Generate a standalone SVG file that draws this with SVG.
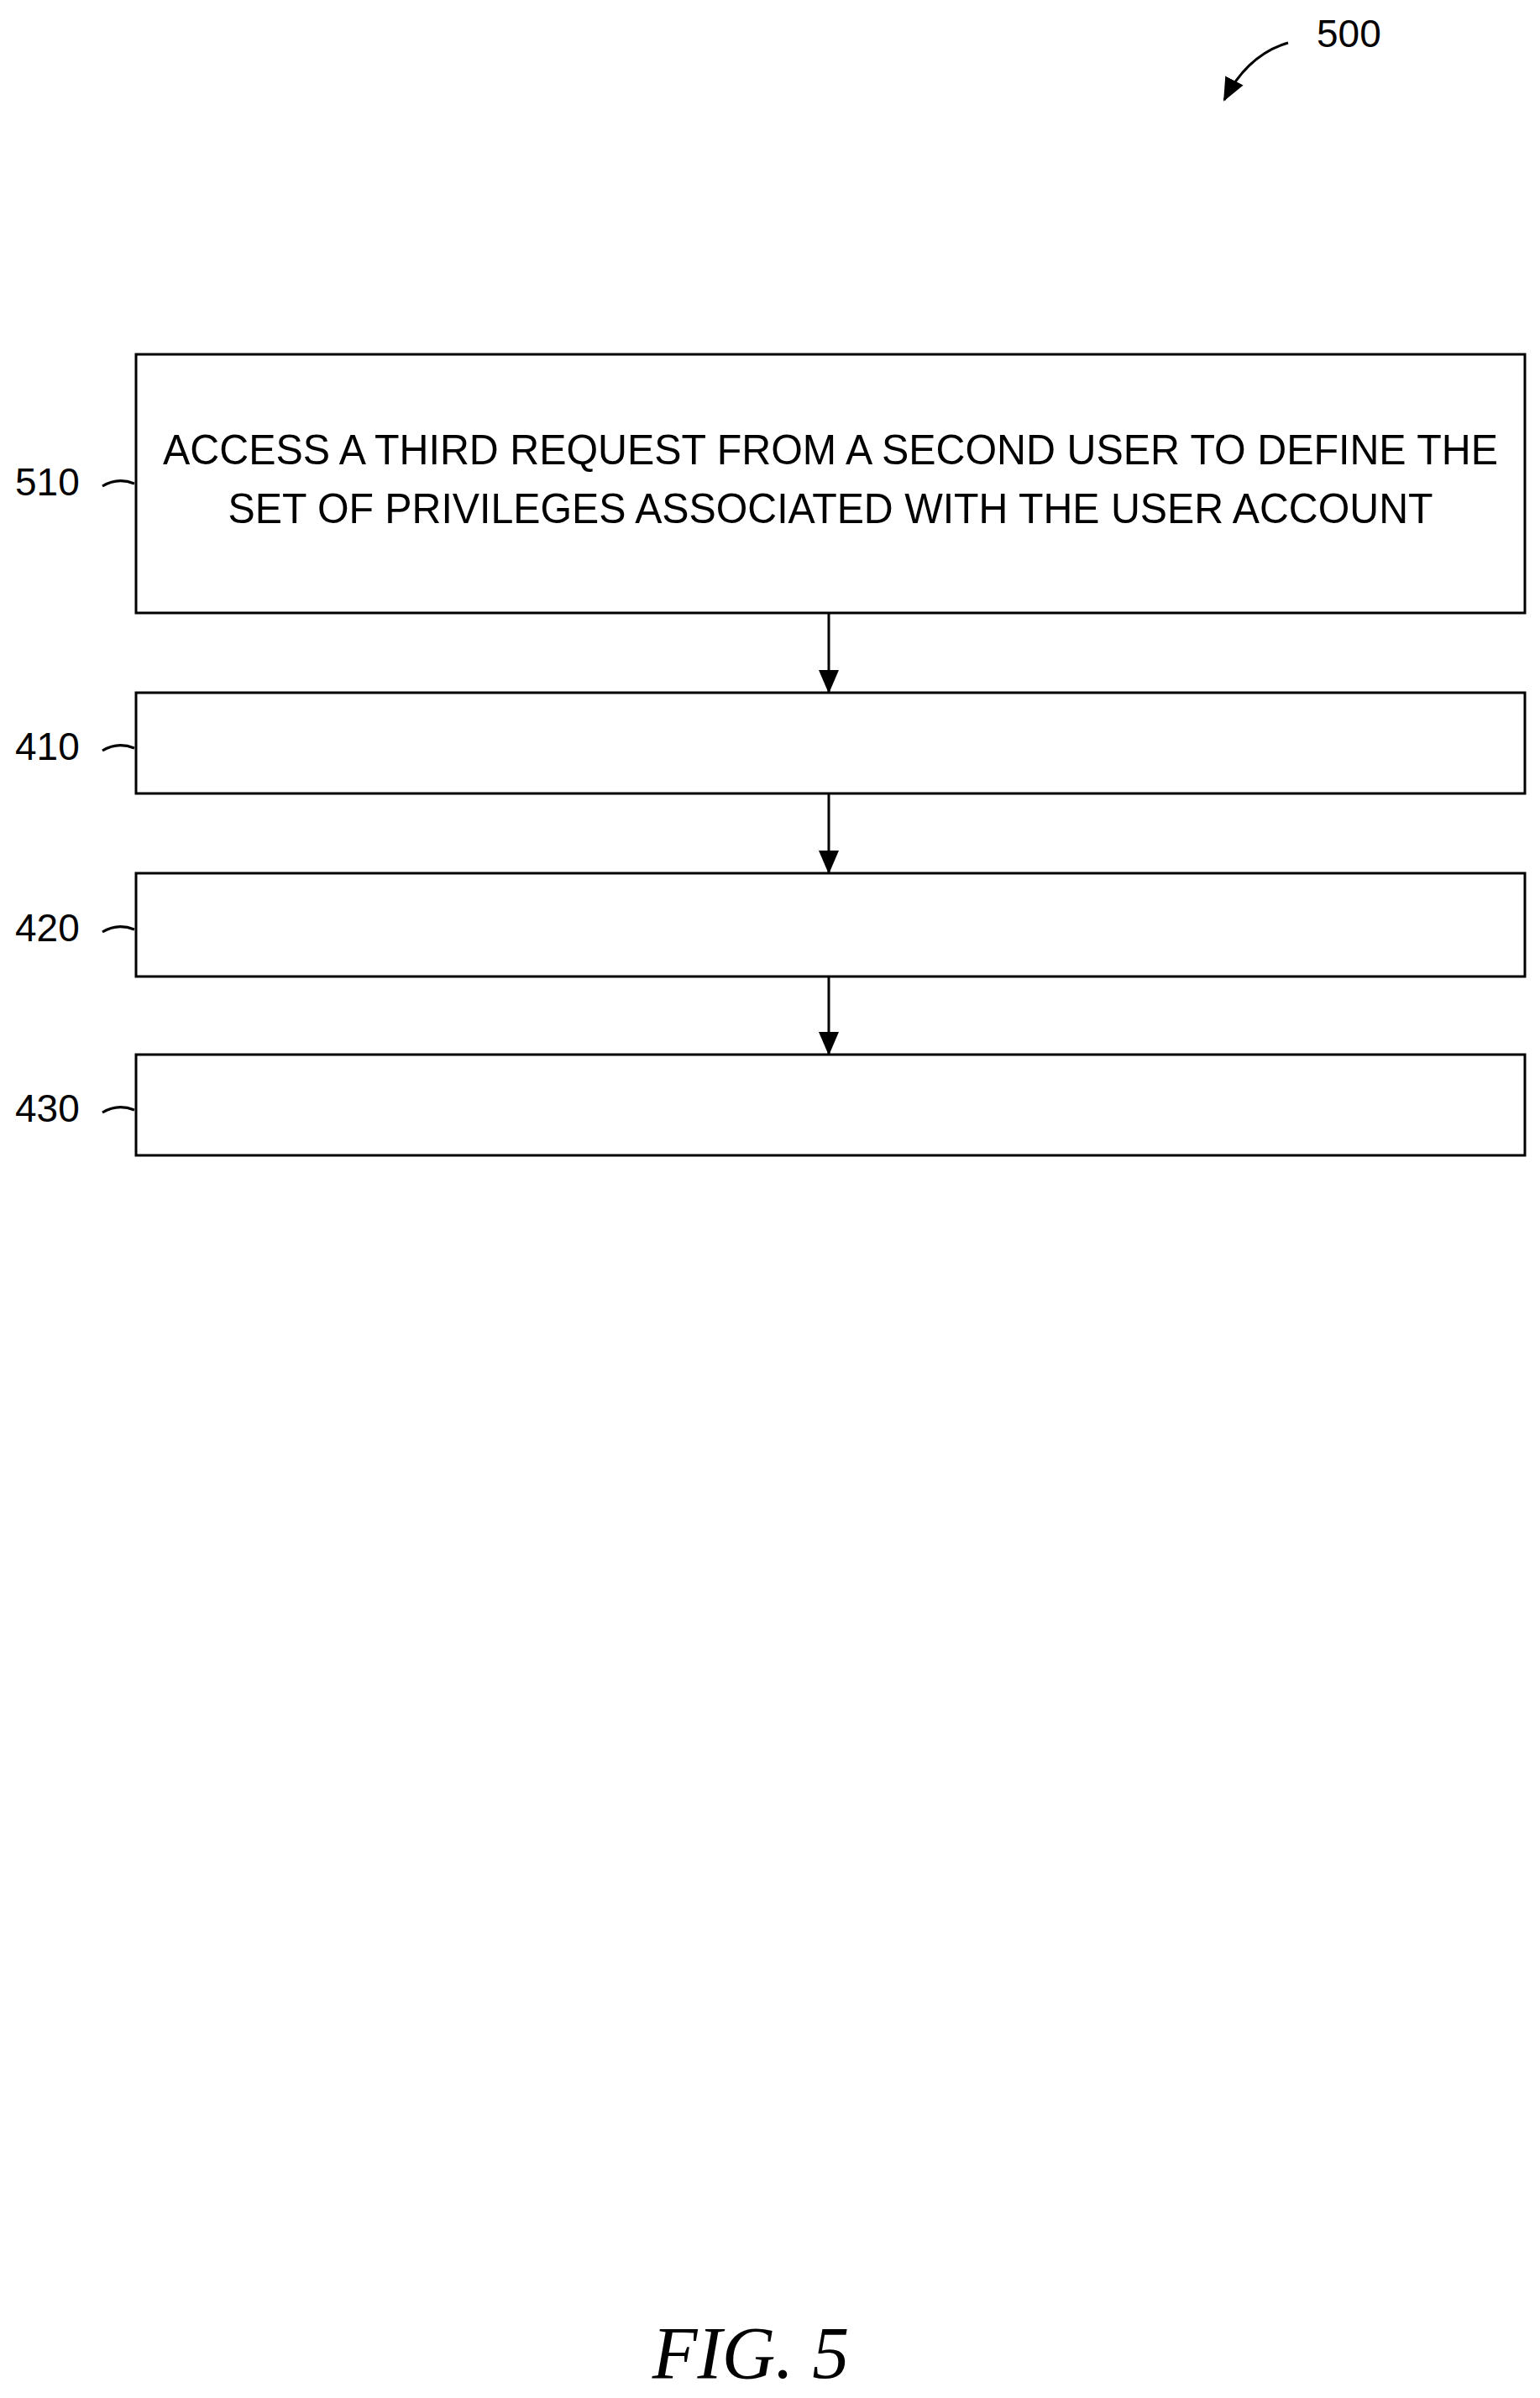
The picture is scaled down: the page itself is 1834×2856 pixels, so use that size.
<svg xmlns="http://www.w3.org/2000/svg" width="1834" height="2856" viewBox="0 0 1834 2856">
<style>
.box{fill:#fff;stroke:#000;stroke-width:3}
.t{font-family:"Liberation Sans",Arial,sans-serif;font-size:50px;fill:#000}
.lbl{font-family:"Liberation Sans",Arial,sans-serif;font-size:46px;fill:#000}
.ln{fill:none;stroke:#000;stroke-width:3}
</style>
<defs><marker id="a2" markerWidth="28" markerHeight="28" refX="26" refY="14" orient="auto" markerUnits="userSpaceOnUse" viewBox="0 0 28 28"><path d="M0,2 L28,14 L0,26 Z" fill="#000"/></marker></defs>
<rect width="1834" height="2856" fill="#fff"/>
<g id="ref500"><text class="lbl" x="1568" y="56">500</text><path class="ln" d="M1534,51 Q1486,65 1458,119" marker-end="url(#a2)"/></g>
<g id="n510"><rect class="box" x="162" y="422" width="1654" height="308"/>
<text class="t" x="989" y="553" text-anchor="middle" textLength="1590" lengthAdjust="spacingAndGlyphs">ACCESS A THIRD REQUEST FROM A SECOND USER TO DEFINE THE</text>
<text class="t" x="989" y="623" text-anchor="middle" textLength="1435" lengthAdjust="spacingAndGlyphs">SET OF PRIVILEGES ASSOCIATED WITH THE USER ACCOUNT</text>
<text class="lbl" x="18" y="590">510</text><path class="ln" d="M122,579 Q140,568 160,576"/></g>
<g id="n410"><rect class="box" x="162" y="825" width="1654" height="120"/><text class="lbl" x="18" y="905">410</text><path class="ln" d="M122,894 Q140,883 160,891"/></g>
<g id="n420"><rect class="box" x="162" y="1040" width="1654" height="123"/><text class="lbl" x="18" y="1121">420</text><path class="ln" d="M122,1110 Q140,1099 160,1107"/></g>
<g id="n430"><rect class="box" x="162" y="1256" width="1654" height="120"/><text class="lbl" x="18" y="1336">430</text><path class="ln" d="M122,1325 Q140,1314 160,1322"/></g>
<g id="connectors">
<line class="ln" x1="987" y1="730" x2="987" y2="824" marker-end="url(#a2)"/>
<line class="ln" x1="987" y1="945" x2="987" y2="1039" marker-end="url(#a2)"/>
<line class="ln" x1="987" y1="1163" x2="987" y2="1255" marker-end="url(#a2)"/>
</g>
<text x="894" y="2832" text-anchor="middle" font-family="'Liberation Serif',serif" font-style="italic" font-size="88">FIG. 5</text>
</svg>
